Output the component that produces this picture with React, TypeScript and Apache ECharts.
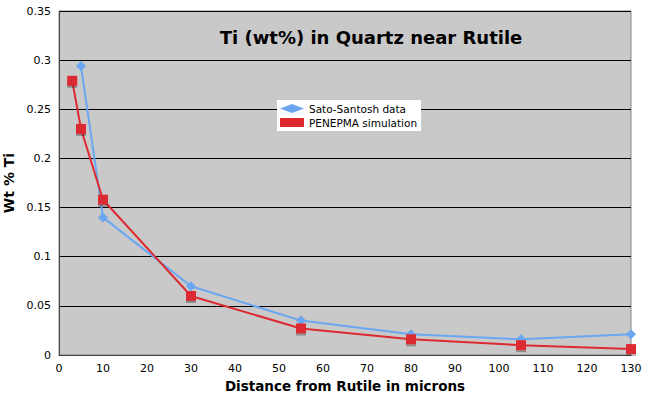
import React, { useEffect, useRef } from "react";
import * as echarts from "echarts";

const blueX = [5, 10, 30, 55, 80, 105, 130];
const blueY = [0.294, 0.14, 0.07, 0.035, 0.021, 0.016, 0.021];
const redX = [3, 5, 10, 30, 55, 80, 105, 130];
const redY = [0.279, 0.23, 0.158, 0.06, 0.027, 0.016, 0.01, 0.006];
const seriesNames = ["Sato-Santosh data", "PENEPMA simulation"];
const title = "Ti (wt%) in Quartz near Rutile";

export default function App() {
  const ref = useRef<HTMLDivElement>(null);
  useEffect(() => {
    if (!ref.current) return;
    const chart = echarts.init(ref.current, undefined, { renderer: "svg" });
    const font = "DejaVu Sans, Verdana, sans-serif";
    chart.setOption({
      animation: false,
      backgroundColor: "#ffffff",
      title: {
        text: title,
        left: 366,
        top: 23,
        textAlign: "center",
        textStyle: { fontFamily: font, fontSize: 18, fontWeight: "bold", color: "#000" },
      },
      legend: {
        left: 277,
        top: 100,
        orient: "vertical",
        backgroundColor: "#ffffff",
        padding: [3, 4, 3, 3],
        itemGap: 3,
        itemWidth: 24,
        itemHeight: 9,
        textStyle: { fontFamily: font, fontSize: 10.5, color: "#000" },
        data: [
          { name: seriesNames[0], icon: "diamond" },
          { name: seriesNames[1], icon: "rect" },
        ],
      },
      grid: {
        left: 59,
        right: 23,
        top: 11,
        bottom: 44,
        outerBoundsMode: "none",
        containLabel: false,
        show: true,
        backgroundColor: "#c9c9c9",
        borderColor: "#888",
        borderWidth: 1,
      },
      xAxis: {
        type: "value",
        min: 0,
        max: 130,
        interval: 10,
        name: "Distance from Rutile in microns",
        nameLocation: "middle",
        nameGap: 24,
        nameTextStyle: { fontFamily: font, fontSize: 13.5, fontWeight: "bold", color: "#000" },
        axisLine: { lineStyle: { color: "#444" } },
        axisTick: { show: false },
        axisLabel: { fontFamily: font, fontSize: 11, color: "#000", margin: 8 },
        splitLine: { show: false },
      },
      yAxis: {
        type: "value",
        min: 0,
        max: 0.35,
        interval: 0.05,
        name: "Wt % Ti",
        nameLocation: "middle",
        nameGap: 39,
        nameRotate: 90,
        nameTextStyle: { fontFamily: font, fontSize: 14, fontWeight: "bold", color: "#000" },
        axisLine: { show: true, lineStyle: { color: "#444" } },
        axisTick: { show: false },
        axisLabel: { fontFamily: font, fontSize: 11, color: "#000", margin: 8 },
        splitLine: { show: true, lineStyle: { color: "#000", width: 1 } },
      },
      series: [
        {
          name: seriesNames[0],
          type: "line",
          data: blueX.map((x, i) => [x, blueY[i]]),
          symbol: "diamond",
          symbolSize: 10,
          itemStyle: { color: "#6aa6f2" },
          lineStyle: { color: "#6aa6f2", width: 2 },
        },
        {
          name: seriesNames[1],
          type: "line",
          data: redX.map((x, i) => [x, redY[i]]),
          symbol: "rect",
          symbolSize: 10,
          itemStyle: { color: "#dc2a30", shadowColor: "rgba(0,0,0,0.3)", shadowOffsetY: 2 },
          lineStyle: { color: "#dc2a30", width: 2 },
        },
      ],
    });
    return () => chart.dispose();
  }, []);
  return <div ref={ref} style={{ width: 654, height: 399, position: "absolute", left: 0, top: 0 }} />;
}
